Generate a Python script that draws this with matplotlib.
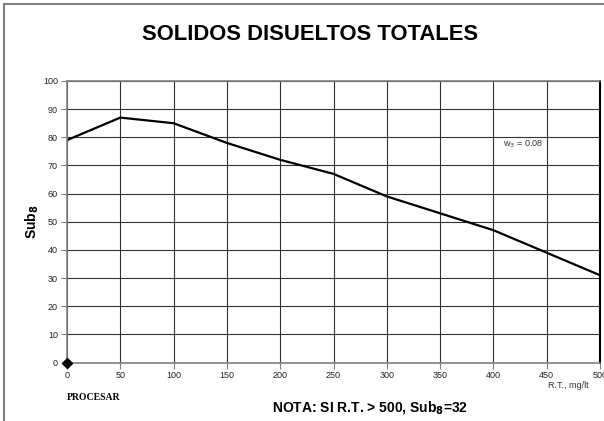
import matplotlib
matplotlib.use("Agg")
import matplotlib.pyplot as plt
from matplotlib.patches import Rectangle

# valores
rt = [0, 50, 100, 150, 200, 250, 300, 350, 400, 450, 500]
sub8 = [79, 87, 85, 78, 72, 67, 59, 53, 47, 39, 31]
x_ticks = [0, 50, 100, 150, 200, 250, 300, 350, 400, 450, 500]
y_ticks = [0, 10, 20, 30, 40, 50, 60, 70, 80, 90, 100]
punto_x = [0]
punto_y = [0]

plt.rcParams['font.family'] = ['Liberation Sans', 'DejaVu Sans']

fig = plt.figure(figsize=(6.04, 4.21), dpi=100)

# marco gris de la hoja
fig.patches.append(Rectangle((4 / 604, -0.1), 1.2, 1 - 4 / 421 + 0.1,
                             transform=fig.transFigure, fill=False,
                             edgecolor='#808080', linewidth=1.5))

ax = fig.add_axes([67 / 604, 58.5 / 421, 533 / 604, 281.5 / 421])
ax.plot(rt, sub8, color='black', linewidth=1.6)
ax.plot(punto_x, punto_y, marker='D', color='black', markersize=5,
        linestyle='none', clip_on=False, zorder=5)

ax.set_xlim(0, 500)
ax.set_ylim(0, 100)
ax.set_xticks(x_ticks)
ax.set_yticks(y_ticks)
ax.tick_params(labelsize=6.5, length=4, width=0.8, color='#808080',
               labelcolor='#222222')
ax.tick_params(axis='x', pad=2)
ax.tick_params(axis='y', pad=2.5)
ax.grid(True, color='#333333', linewidth=0.8)

for s in ['left', 'bottom', 'top']:
    ax.spines[s].set_color('#808080')
    ax.spines[s].set_linewidth(1.2)
ax.spines['right'].set_color('black')
ax.spines['right'].set_linewidth(1.5)

ax.text(0.855, 0.775, r'w$_3$ = 0.08', transform=ax.transAxes,
        fontsize=6.5, color='#333333', ha='center', va='center')

fig.text(310 / 604, 1 - 35 / 421, 'SOLIDOS DISUELTOS TOTALES',
         fontsize=15.8, fontweight='bold', ha='center', va='center')
fig.text(32 / 604, 1 - 222 / 421, r'Sub$_\mathbf{8}$', rotation=90,
         fontsize=10, fontweight='bold', ha='center', va='center')
fig.text(67 / 604, 1 - 398 / 421, 'PROCESAR', family='Liberation Serif',
         fontsize=7, fontweight='bold', ha='left', va='center')
fig.text(370 / 604, 1 - 407 / 421, r'NOTA: SI R.T. > 500, Sub$_\mathbf{8}$=32',
         fontsize=10, fontweight='bold', ha='center', va='center')
fig.text(568 / 604, 1 - 385 / 421, 'R.T., mg/lt', fontsize=6.5,
         color='#333333', ha='center', va='center')

fig.savefig('out.png', dpi=100)
